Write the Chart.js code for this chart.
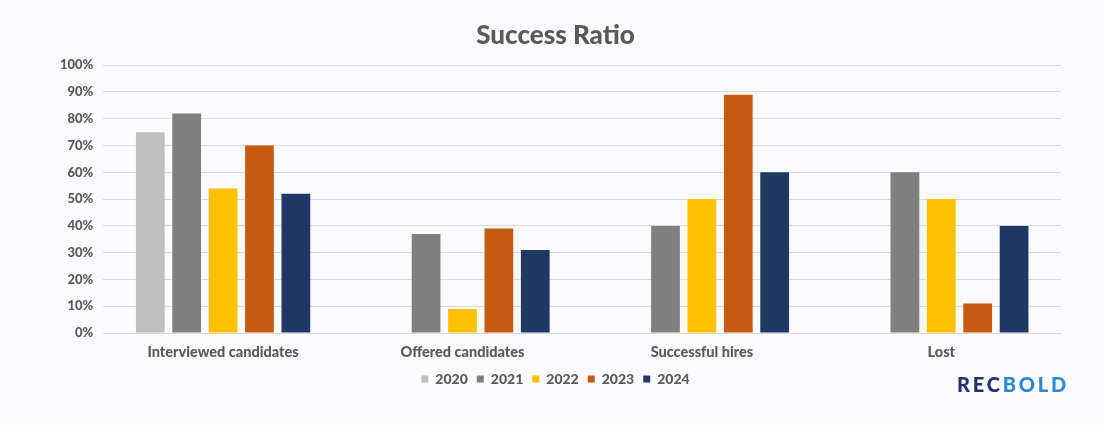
<!DOCTYPE html>
<html>
<head>
<meta charset="utf-8">
<script src="https://cdn.jsdelivr.net/npm/chart.js@4"></script>
<style>
  html, body { margin: 0; padding: 0; background: #fbfbfe; }
  #wrap { position: relative; width: 1103px; height: 425px; }
  #logo {
    position: absolute; left: 957px; top: 372px;
    font-family: "Lato", sans-serif; font-weight: 900; font-size: 20px; letter-spacing: 2.8px;
  }
  #logo .a { color: #26336b; }
  #logo .b { color: #2f87d0; }
</style>
</head>
<body>
<div id="wrap">
  <canvas id="chart" width="1103" height="425"></canvas>
  <div id="logo"><span class="a">REC</span><span class="b">BOLD</span></div>
</div>
<script>
const categories = ["Interviewed candidates", "Offered candidates", "Successful hires", "Lost"];
const years = ["2020", "2021", "2022", "2023", "2024"];
const values2020 = [75, null, null, null];
const values2021 = [82, 37, 40, 60];
const values2022 = [54, 9, 50, 50];
const values2023 = [70, 39, 89, 11];
const values2024 = [52, 31, 60, 40];
const yTicks = [0, 10, 20, 30, 40, 50, 60, 70, 80, 90, 100];

const colors = ["#bfbfbf", "#7f7f7f", "#ffc000", "#c55a11", "#203864"];
const series = [values2020, values2021, values2022, values2023, values2024];
const textColor = "#595959";
const font = "Lato, 'Open Sans', sans-serif";

new Chart(document.getElementById("chart"), {
  type: "bar",
  data: {
    labels: categories,
    datasets: series.map((data, i) => ({
      label: years[i],
      data: data,
      backgroundColor: colors[i],
      borderWidth: 0,
      categoryPercentage: 0.76,
      barPercentage: 0.79,
    })),
  },
  options: {
    responsive: false,
    animation: false,
    layout: { padding: { left: 50, right: 42, top: 16, bottom: 29 } },
    plugins: {
      title: {
        display: true,
        text: "Success Ratio",
        color: textColor,
        font: { family: font, size: 26, weight: 900 },
        padding: { top: 4, bottom: 14 },
      },
      legend: {
        position: "bottom",
        labels: {
          color: textColor,
          font: { family: font, size: 14, weight: 900 },
          boxWidth: 7,
          boxHeight: 7,
          padding: 9,
        },
      },
      tooltip: { enabled: false },
    },
    scales: {
      x: {
        grid: { display: false, drawTicks: false },
        border: { color: "#d9d9d9" },
        ticks: { color: textColor, font: { family: font, size: 14.5, weight: 900 }, padding: 11 },
        afterFit: (scale) => { scale.height = 30; },
      },
      y: {
        min: 0,
        max: 100,
        afterBuildTicks: (axis) => { axis.ticks = yTicks.map((v) => ({ value: v })); },
        grid: { color: "#d9d9d9", drawTicks: false },
        border: { display: false },
        ticks: {
          color: textColor,
          font: { family: font, size: 13, weight: 900 },
          padding: 10,
          callback: (v) => v + "%",
        },
      },
    },
  },
});
</script>
</body>
</html>
